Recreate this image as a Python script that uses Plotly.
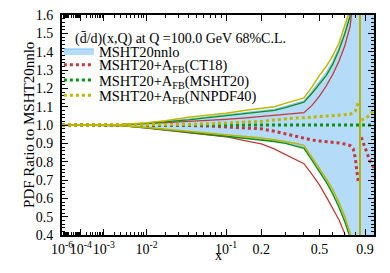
import plotly.graph_objects as go

P = 0.27  # power used for the x-axis scale

x_grid = [1e-6, 1e-5, 1e-4, 1e-3, 0.003, 0.01, 0.02, 0.04, 0.07, 0.1, 0.15, 0.2, 0.25,
          0.3, 0.35, 0.4, 0.45, 0.5, 0.55, 0.6, 0.65, 0.7, 0.75, 0.8]

# MSHT20nnlo band
band_up = [1.0, 1.0, 1.0, 1.0, 1.002, 1.010, 1.019, 1.032, 1.046, 1.056, 1.069, 1.078, 1.086,
           1.102, 1.117, 1.132, 1.183, 1.240, 1.287, 1.348, 1.421, 1.508, 1.605, 2.1]
band_lo = [1.0, 1.0, 1.0, 1.0, 0.997, 0.986, 0.976, 0.963, 0.952, 0.942, 0.932, 0.922, 0.913,
           0.904, 0.891, 0.878, 0.813, 0.753, 0.694, 0.630, 0.560, 0.484, 0.395, -0.3]
band_tail_x = [0.9, 1.0]
band_tail_up = [6.0, 6.0]
band_tail_lo = [-6.0, -6.0]

# AFB(CT18)
ct_up = [1.0, 1.0, 1.0, 1.0, 1.001, 1.007, 1.012, 1.019, 1.026, 1.031, 1.039, 1.047, 1.050,
         1.057, 1.062, 1.067, 1.107, 1.157, 1.214, 1.277, 1.348, 1.429, 1.538, 1.8]
ct_lo = [1.0, 1.0, 1.0, 1.0, 0.997, 0.983, 0.971, 0.957, 0.945, 0.936, 0.914, 0.897, 0.870,
         0.840, 0.813, 0.789, 0.731, 0.673, 0.608, 0.545, 0.483, 0.409, -0.1, -2.0]
ct_cen_x1 = [1e-6, 1e-3, 0.01, 0.02, 0.04, 0.07, 0.1, 0.15, 0.2, 0.25, 0.3, 0.35, 0.4, 0.45,
             0.5, 0.55, 0.6, 0.65, 0.7, 0.75, 0.78, 0.8, 0.815, 0.83]
ct_cen_y1 = [1.0, 1.0, 1.0, 0.999, 0.997, 0.994, 0.990, 0.985, 0.979, 0.966, 0.952, 0.938, 0.925,
             0.918, 0.913, 0.910, 0.907, 0.902, 0.896, 0.888, 0.870, 0.820, 0.750, 0.690]
ct_cen_x2 = [0.86, 0.9, 0.95, 1.0]
ct_cen_y2 = [0.933, 0.880, 0.810, 0.765]

# AFB(MSHT20)
ms_up = [1.0, 1.0, 1.0, 1.0, 1.002, 1.009, 1.017, 1.028, 1.042, 1.052, 1.064, 1.073, 1.080,
         1.095, 1.110, 1.125, 1.173, 1.226, 1.271, 1.332, 1.408, 1.495, 1.593, 2.0]
ms_lo = [1.0, 1.0, 1.0, 1.0, 0.997, 0.985, 0.974, 0.961, 0.949, 0.939, 0.929, 0.919, 0.910,
         0.900, 0.887, 0.873, 0.807, 0.745, 0.687, 0.622, 0.551, 0.474, 0.387, -0.3]
ms_pole_x = [0.845, 0.8465, 0.9, 1.0]
ms_pole_up = [6.0, -6.0, -6.0, -6.0]
ms_pole_lo = [-6.0, 6.0, 6.0, 6.0]
ms_cen_x = [1e-6, 0.1, 0.5, 1.0]
ms_cen_y = [1.0, 1.0, 1.0, 1.0]

# AFB(NNPDF40)
nn_up = [1.0, 1.0, 1.0, 1.001, 1.003, 1.012, 1.023, 1.042, 1.054, 1.064, 1.080, 1.091, 1.100,
         1.118, 1.133, 1.148, 1.208, 1.271, 1.320, 1.378, 1.446, 1.533, 1.63, 2.2]
nn_lo = [1.0, 1.0, 1.0, 1.0, 0.997, 0.987, 0.978, 0.967, 0.956, 0.948, 0.938, 0.929, 0.919,
         0.911, 0.900, 0.889, 0.824, 0.767, 0.706, 0.646, 0.578, 0.502, 0.409, -0.2]
nn_pole_x = [0.8465, 0.848, 0.9, 1.0]
nn_pole_up = [6.0, -6.0, -6.0, -6.0]
nn_pole_lo = [-6.0, 6.0, 6.0, 6.0]
nn_cen_x1 = [1e-6, 1e-2, 0.02, 0.04, 0.07, 0.1, 0.15, 0.2, 0.25, 0.3, 0.35, 0.4, 0.45, 0.5,
             0.55, 0.6, 0.65, 0.7, 0.75, 0.8, 0.83]
nn_cen_y1 = [1.0, 1.0, 1.001, 1.003, 1.007, 1.010, 1.015, 1.020, 1.027, 1.035, 1.038, 1.040,
             1.043, 1.045, 1.047, 1.049, 1.051, 1.053, 1.058, 1.075, 1.125]
nn_cen_x2 = [0.86, 0.9, 0.95, 1.0]
nn_cen_y2 = [1.026, 1.035, 1.053, 1.080]

tick_x = [1e-6, 1e-4, 1e-3, 1e-2, 0.1, 0.2, 0.5, 0.9]
tick_text = ["10<sup>-6</sup>", "10<sup>-4</sup>", "10<sup>-3</sup>", "10<sup>-2</sup>",
             "10<sup>-1</sup>", "0.2", "0.5", "0.9"]
minor_x = ([k * 10.0 ** e for e in range(-6, -1) for k in range(2, 10)]
           + [0.3, 0.4, 0.6, 0.7, 0.8])

title_txt = "(d\u0304/d)(x,Q) at Q =100.0 GeV 68%C.L."
x_title = "x"
y_title = "PDF Ratio to MSHT20nnlo"

RED = "rgb(196,56,56)"
GREEN = "rgb(10,145,20)"
YEL = "rgb(190,182,0)"
BLUE_LINE = "rgb(140,200,245)"
BLUE_FILL = "rgb(180,219,248)"


def T(xs):
    return [None if v is None else v ** P for v in xs]


fig = go.Figure()

# band
fig.add_trace(go.Scatter(x=T(x_grid + band_tail_x), y=band_lo + band_tail_lo, mode="lines",
                         line=dict(color=BLUE_LINE, width=1.2), showlegend=False,
                         hoverinfo="skip"))
fig.add_trace(go.Scatter(x=T(x_grid + band_tail_x), y=band_up + band_tail_up, mode="lines",
                         line=dict(color=BLUE_LINE, width=1.2), fill="tonexty",
                         fillcolor=BLUE_FILL, name="MSHT20nnlo", legend="legend"))

# CT18
fig.add_trace(go.Scatter(x=T(x_grid + [0.9, 1.0]), y=ct_up + [6.0, 6.0], mode="lines",
                         line=dict(color=RED, width=1.3), showlegend=False))
fig.add_trace(go.Scatter(x=T(x_grid + [0.9, 1.0]), y=ct_lo + [-6.0, -6.0], mode="lines",
                         line=dict(color=RED, width=1.3), showlegend=False))
fig.add_trace(go.Scatter(x=T(ct_cen_x1 + [None] + ct_cen_x2), y=ct_cen_y1 + [None] + ct_cen_y2,
                         mode="lines", line=dict(color=RED, width=3, dash="dot"),
                         name="MSHT20+A<sub>FB</sub>(CT18)", legend="legend2"))

# MSHT20
fig.add_trace(go.Scatter(x=T(x_grid + ms_pole_x), y=ms_up + ms_pole_up, mode="lines",
                         line=dict(color=GREEN, width=1.3), showlegend=False))
fig.add_trace(go.Scatter(x=T(x_grid + ms_pole_x), y=ms_lo + ms_pole_lo, mode="lines",
                         line=dict(color=GREEN, width=1.3), showlegend=False))
fig.add_trace(go.Scatter(x=T(ms_cen_x), y=ms_cen_y, mode="lines",
                         line=dict(color=GREEN, width=3, dash="dot"),
                         name="MSHT20+A<sub>FB</sub>(MSHT20)", legend="legend3"))

# NNPDF40
fig.add_trace(go.Scatter(x=T(x_grid + nn_pole_x), y=nn_up + nn_pole_up, mode="lines",
                         line=dict(color=YEL, width=1.5), showlegend=False))
fig.add_trace(go.Scatter(x=T(x_grid + nn_pole_x), y=nn_lo + nn_pole_lo, mode="lines",
                         line=dict(color=YEL, width=1.5), showlegend=False))
fig.add_trace(go.Scatter(x=T(nn_cen_x1 + [None] + nn_cen_x2), y=nn_cen_y1 + [None] + nn_cen_y2,
                         mode="lines", line=dict(color=YEL, width=3, dash="dot"),
                         name="MSHT20+A<sub>FB</sub>(NNPDF40)", legend="legend4"))

FONT = "Liberation Serif, Times New Roman, serif"
LFONT = dict(family=FONT, size=14.5, color="black")


def leg(ypos):
    return dict(x=-0.01, y=ypos, xanchor="left", yanchor="middle",
                bgcolor="rgba(0,0,0,0)", borderwidth=0, font=LFONT, itemwidth=30)


fig.update_layout(
    width=390, height=273,
    margin=dict(l=62, r=16, t=15, b=38, autoexpand=False),
    paper_bgcolor="white", plot_bgcolor="white",
    font=dict(family=FONT, size=14, color="black"),
    showlegend=True,
    legend=leg(0.836),
    legend2=leg(0.774),
    legend3=leg(0.704),
    legend4=leg(0.635),
    annotations=[
        dict(text=title_txt, xref="paper", yref="paper", x=0.036, y=0.893,
             xanchor="left", yanchor="middle", showarrow=False,
             font=dict(family=FONT, size=14, color="black")),
        dict(text=x_title, xref="paper", yref="paper", x=0.5, y=-0.095,
             xanchor="center", yanchor="middle", showarrow=False,
             font=dict(family=FONT, size=14, color="black")),
        dict(text=y_title, xref="paper", yref="paper", x=-0.106, y=0.5, textangle=-90,
             xanchor="center", yanchor="middle", showarrow=False,
             font=dict(family=FONT, size=15, color="black")),
    ],
)

fig.update_xaxes(
    range=[(1e-6) ** P, 1.0], automargin=False,
    tickmode="array", tickvals=T(tick_x), ticktext=tick_text, tickangle=0,
    ticks="inside", ticklen=6, tickwidth=1, tickcolor="black",
    minor=dict(tickmode="array", tickvals=T(minor_x), ticks="inside", ticklen=3,
               tickcolor="black", tickwidth=1),
    showline=True, linecolor="black", linewidth=2, mirror="allticks",
    showgrid=False, zeroline=False,
    tickfont=dict(family=FONT, size=14),
)
fig.update_yaxes(
    range=[0.4, 1.6], automargin=False,
    tickmode="linear", tick0=0.4, dtick=0.1, tickformat=".1f",
    ticks="inside", ticklen=6, tickwidth=1, tickcolor="black",
    minor=dict(dtick=0.02, ticks="inside", ticklen=3, tickcolor="black", tickwidth=1),
    showline=True, linecolor="black", linewidth=2, mirror="allticks",
    showgrid=False, zeroline=False, ticklabelstandoff=4,
    tickfont=dict(family=FONT, size=14),
)

fig.write_html("out.html", config={"displayModeBar": False},
               post_script="document.body.style.margin='0';document.body.style.padding='0';")
